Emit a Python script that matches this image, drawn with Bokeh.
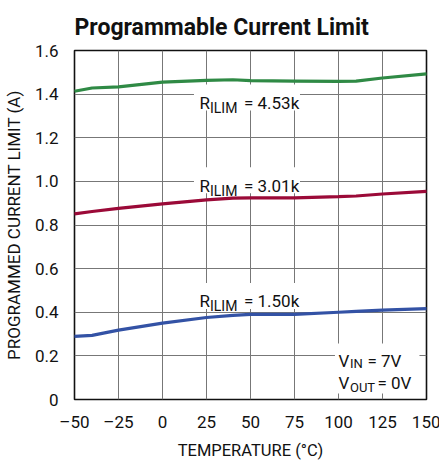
from bokeh.plotting import figure
from bokeh.models import ColumnDataSource, FixedTicker, Title
from bokeh.core.properties import value
from bokeh.embed import file_html
from bokeh.resources import INLINE

# ---- data ----
temps = [-50, -40, -25, 0, 25, 40, 50, 75, 100, 110, 125, 150]
i_453k = [1.413, 1.428, 1.433, 1.455, 1.463, 1.466, 1.462, 1.460, 1.458, 1.460, 1.474, 1.493]
i_301k = [0.851, 0.862, 0.876, 0.897, 0.915, 0.923, 0.924, 0.924, 0.930, 0.933, 0.942, 0.954]
i_150k = [0.289, 0.294, 0.318, 0.350, 0.376, 0.386, 0.390, 0.390, 0.400, 0.404, 0.410, 0.417]
series_colors = ["#2f8a45", "#9b0a38", "#3352a5"]

x_ticks = [-50, -25, 0, 25, 50, 75, 100, 125, 150]
x_tick_labels = ["\u201350", "\u201325", "0", "25", "50", "75", "100", "125", "150"]
y_ticks = [0, 0.2, 0.4, 0.6, 0.8, 1.0, 1.2, 1.4, 1.6]
y_tick_labels = ["0", "0.2", "0.4", "0.6", "0.8", "1.0", "1.2", "1.4", "1.6"]

label_values = ["4.53k", "3.01k", "1.50k"]
label_x = [48, 48, 48]
label_y = [1.384, 1.0055, 0.4745]

cond_x = 100
cond_y = 0.2

FONT = "Roboto"
LVL = "annotation"

p = figure(frame_width=352, frame_height=349, x_range=(-50, 150), y_range=(0, 1.6),
           output_backend="svg", toolbar_location=None,
           min_border_left=73, min_border_right=14, min_border_top=50, min_border_bottom=62)
p.title = None
t = Title(text="Programmable Current Limit", align="left", offset=0,
          text_font=FONT, text_font_size="23px", text_font_style="bold",
          text_color="#111111", standoff=20)
p.add_layout(t, "above")

# grid & axes
p.xaxis.ticker = FixedTicker(ticks=x_ticks)
p.yaxis.ticker = FixedTicker(ticks=y_ticks)
for g in (p.xgrid, p.ygrid):
    g.grid_line_color = "#777777"
    g.grid_line_width = 1
    g.grid_line_alpha = 1.0
    g.level = "glyph"
p.outline_line_color = "#111111"
p.outline_line_width = 1.6

p.xaxis.major_label_overrides = {v: s for v, s in zip(x_ticks, x_tick_labels)}
p.yaxis.major_label_overrides = {v: s for v, s in zip(y_ticks, y_tick_labels)}
for ax in (p.xaxis, p.yaxis):
    ax.axis_line_color = None
    ax.major_tick_line_color = None
    ax.minor_tick_line_color = None
    ax.major_label_text_font = FONT
    ax.major_label_text_font_size = "17px"
    ax.major_label_text_color = "#111111"
    ax.axis_label_text_font = FONT
    ax.axis_label_text_font_style = "normal"
    ax.axis_label_text_color = "#111111"
p.xaxis.axis_label = "TEMPERATURE (\u00b0C)"
p.yaxis.axis_label = "PROGRAMMED CURRENT LIMIT (A)"
p.xaxis.axis_label_text_font_size = "16.5px"
p.yaxis.axis_label_text_font_size = "17px"
p.xaxis.major_label_standoff = 6
p.yaxis.major_label_standoff = 10
p.xaxis.axis_label_standoff = 6
p.yaxis.axis_label_standoff = 8

# curves
for ys, c in zip([i_453k, i_301k, i_150k], series_colors):
    p.line(temps, ys, line_color=c, line_width=3.2, level=LVL)

# R_ILIM labels with white backgrounds
src = ColumnDataSource(dict(x=label_x, y=label_y,
                            r=["R"] * 3, sub=["ILIM"] * 3,
                            rest=["= " + v for v in label_values]))
p.rect(x="x", y="y", width=106, height=26, width_units="screen", height_units="screen",
       fill_color="white", line_color=None, source=src, level=LVL)
p.text(x="x", y="y", text="r", x_offset=-47.5, y_offset=5.5, text_baseline="alphabetic",
       text_align="left", text_font=value(FONT), text_font_size="17px",
       text_color="#111111", source=src, level=LVL)
p.text(x="x", y="y", text="sub", x_offset=-37, y_offset=10.5, text_baseline="alphabetic",
       text_align="left", text_font=value(FONT), text_font_size="14px",
       text_color="#111111", source=src, level=LVL)
p.text(x="x", y="y", text="rest", x_offset=-3, y_offset=5.5, text_baseline="alphabetic",
       text_align="left", text_font=value(FONT), text_font_size="17px",
       text_color="#111111", source=src, level=LVL)

# conditions label
csrc = ColumnDataSource(dict(x=[cond_x, cond_x], y=[cond_y, cond_y],
                             v=["V", "V"], sub=["IN", "OUT"], rest=["= 7V", "= 0V"],
                             yo=[5, 27], yso=[8, 32], xr=[29, 39]))
p.rect(x=[cond_x + 22], y=[cond_y - 0.058], width=48, height=50, height_units="screen",
       fill_color="white", line_color=None, level=LVL)
p.text(x="x", y="y", text="v", x_offset=0, y_offset="yo", text_baseline="alphabetic",
       text_align="left", text_font=value(FONT), text_font_size="17px",
       text_color="#111111", source=csrc, level=LVL)
p.text(x="x", y="y", text="sub", x_offset=11.5, y_offset="yso", text_baseline="alphabetic",
       text_align="left", text_font=value(FONT), text_font_size="13px",
       text_color="#111111", source=csrc, level=LVL)
p.text(x="x", y="y", text="rest", x_offset="xr", y_offset="yo", text_baseline="alphabetic",
       text_align="left", text_font=value(FONT), text_font_size="17px",
       text_color="#111111", source=csrc, level=LVL)

open("out.html", "w").write(file_html(p, INLINE))
